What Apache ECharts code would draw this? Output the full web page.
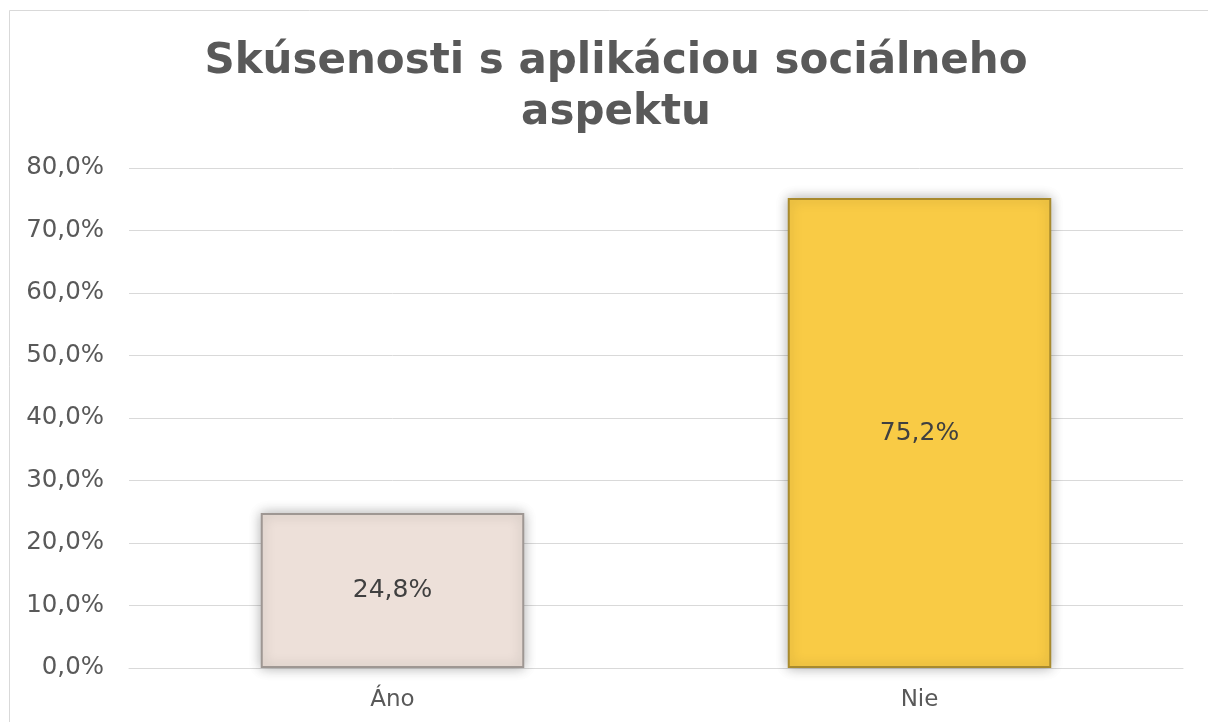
<!DOCTYPE html>
<html>
<head>
<meta charset="utf-8">
<script src="https://cdn.jsdelivr.net/npm/echarts@6/dist/echarts.min.js"></script>
<style>
  html, body { margin: 0; padding: 0; background: #fff; }
  #chart { width: 1208px; height: 722px; }
</style>
</head>
<body>
<div id="chart"></div>
<script>
let categories = ['Áno', 'Nie'];
let values = [24.8, 75.2];
let barColors = ['#EDE0D9', '#F9CB45'];
let barBorders = ['#9E9793', '#A88A2E'];

let chart = echarts.init(document.getElementById('chart'));

// percent with decimal comma
function pct(v) {
  return v.toFixed(1).replace('.', ',') + '%';
}

let option = {
  backgroundColor: '#fff',
  animation: false,
  title: {
    text: 'Skúsenosti s aplikáciou sociálneho\naspektu',
    left: 611,
    top: 32,
    textAlign: 'center',
    textStyle: {
      fontFamily: 'DejaVu Sans',
      fontWeight: 'bold',
      fontSize: 42,
      lineHeight: 51,
      color: '#595959'
    }
  },
  graphic: [
    {
      type: 'rect',
      shape: { x: 9.5, y: 10.5, width: 1220, height: 730 },
      style: { fill: 'none', stroke: '#D9D9D9', lineWidth: 1 },
      silent: true
    }
  ],
  grid: {
    left: 129,
    right: 25,
    top: 168,
    bottom: 54
  },
  xAxis: {
    type: 'category',
    data: categories,
    axisTick: { show: false },
    axisLine: { lineStyle: { color: '#D9D9D9', width: 1 } },
    axisLabel: {
      fontFamily: 'DejaVu Sans',
      fontSize: 23,
      color: '#595959',
      margin: 21
    }
  },
  yAxis: {
    type: 'value',
    min: 0,
    max: 80,
    interval: 10,
    axisLine: { show: false },
    axisTick: { show: false },
    splitLine: { lineStyle: { color: '#D9D9D9', width: 1 } },
    axisLabel: {
      fontFamily: 'DejaVu Sans',
      fontSize: 24.5,
      color: '#595959',
      margin: 25,
      formatter: pct
    }
  },
  series: [
    {
      type: 'bar',
      barWidth: '50%',
      data: values.map(function (v, i) {
        return {
          value: v,
          itemStyle: {
            color: barColors[i],
            borderColor: barBorders[i],
            borderWidth: 2,
            shadowColor: 'rgba(0,0,0,0.3)',
            shadowBlur: 12,
            shadowOffsetX: 0,
            shadowOffsetY: 0
          }
        };
      }),
      label: {
        show: true,
        position: 'inside',
        fontFamily: 'DejaVu Sans',
        fontSize: 25,
        color: '#404040',
        formatter: function (p) {
          return pct(p.value);
        }
      }
    }
  ]
};

chart.setOption(option);
</script>
</body>
</html>
